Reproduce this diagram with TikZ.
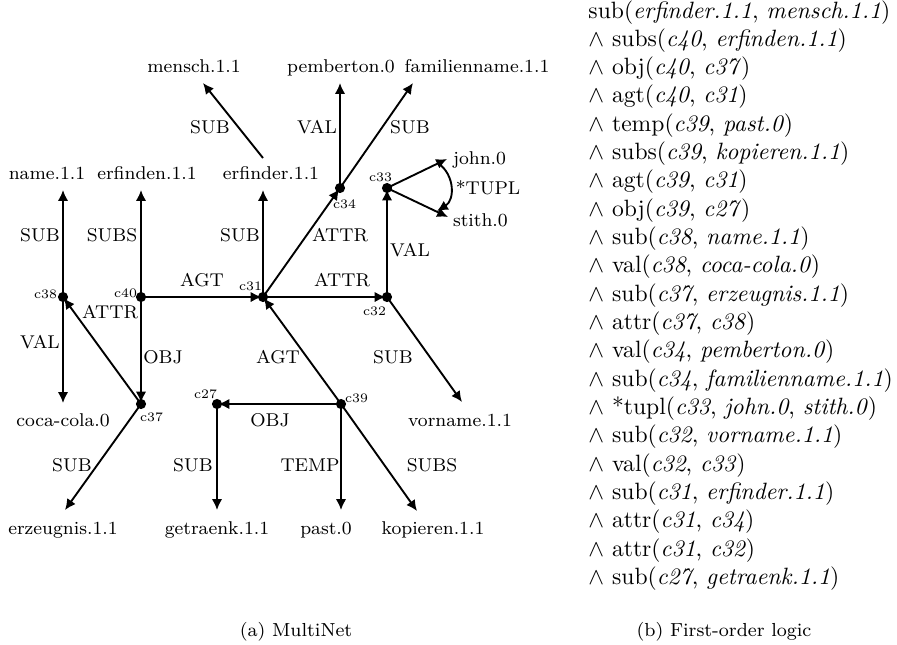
\documentclass[tikz,border=0pt]{standalone}
\usetikzlibrary{arrows.meta}
\begin{document}
\begin{tikzpicture}[x=0.4237pt,y=-0.4237pt,
  gl/.style={font=\fontsize{7.84}{9.4}\selectfont, inner sep=0pt, outer sep=0pt},
  nlab/.style={gl, anchor=base},
  elab/.style={gl, anchor=center},
  clab/.style={font=\fontsize{5.5}{6.6}\selectfont, inner sep=0pt, outer sep=0pt},
  caplab/.style={font=\footnotesize, inner sep=0pt},
  arr/.style={line width=0.8pt, -{Latex[length=4.6pt,width=4.4pt]}},
  arrd/.style={arr, shorten >=0.6pt},
  dotr/.style={fill=black}
]
\useasboundingbox (0,0) rectangle (897,644);
% concept points
\coordinate (c38) at (63,297);
\coordinate (c40) at (141,297);
\coordinate (c31) at (263,297);
\coordinate (c32) at (387,297);
\coordinate (c34) at (340,188);
\coordinate (c33) at (387,188);
\coordinate (c37) at (141,404);
\coordinate (c27) at (217,404);
\coordinate (c39) at (341,404);
% text nodes
\node[nlab] (mensch) at (194,72) {mensch.1.1};
\node[nlab] (pemberton) at (341,72) {pemberton.0};
\node[nlab] (famname) at (477,72) {familienname.1.1};
\node[nlab] (name) at (47,179) {name.1.1};
\node[nlab] (erfinden) at (147,179) {erfinden.1.1};
\node[nlab] (erfinder) at (271,179) {erfinder.1.1};
\node[nlab, anchor=base west] (john) at (453,164) {john.0};
\node[nlab, anchor=base west] (stith) at (453,226) {stith.0};
\node[nlab] (cocacola) at (63,426) {coca-cola.0};
\node[nlab] (vorname) at (460,426) {vorname.1.1};
\node[nlab] (erzeugnis) at (63,534) {erzeugnis.1.1};
\node[nlab] (getraenk) at (217,534) {getraenk.1.1};
\node[nlab] (past) at (326,534) {past.0};
\node[nlab] (kopieren) at (433,534) {kopieren.1.1};
% arrow end points near text nodes
\coordinate (t-mensch) at (203,83);
\coordinate (s-erfinder) at (263,158);
\coordinate (t-pemberton) at (340,83);
\coordinate (t-famname) at (413,83);
\coordinate (t-name) at (63,190);
\coordinate (t-erfinden) at (141,190);
\coordinate (t-erfinder) at (263,190);
\coordinate (t-john) at (447,159);
\coordinate (t-stith) at (448,217);
\coordinate (t-cocacola) at (63,403);
\coordinate (t-vorname) at (462,402);
\coordinate (t-erzeugnis) at (65,510);
\coordinate (t-getraenk) at (217,510);
\coordinate (t-past) at (341,510);
\coordinate (t-kopieren) at (417,511);
\coordinate (tu1) at (438,163);
\coordinate (tu2) at (437,211);
% edges
\draw[arrd] (c40) -- (c31);
\draw[arr] (c40) -- (t-erfinden);
\draw[arrd] (c40) -- (c37);
\draw[arr] (c38) -- (t-name);
\draw[arr] (c38) -- (t-cocacola);
\draw[arrd] (c37) -- (c38);
\draw[arr] (c37) -- (t-erzeugnis);
\draw[arr] (c27) -- (t-getraenk);
\draw[arrd] (c39) -- (c27);
\draw[arrd] (c39) -- (c31);
\draw[arr] (c39) -- (t-past);
\draw[arr] (c39) -- (t-kopieren);
\draw[arr] (c31) -- (t-erfinder);
\draw[arrd] (c31) -- (c34);
\draw[arrd] (c31) -- (c32);
\draw[arr] (c34) -- (t-pemberton);
\draw[arr] (c34) -- (t-famname);
\draw[arr] (s-erfinder) -- (t-mensch);
\draw[arrd] (c32) -- (c33);
\draw[arr] (c32) -- (t-vorname);
\draw[arr] (c33) -- (t-john);
\draw[arr] (c33) -- (t-stith);
\draw[arr] (tu1) .. controls (455,175) and (455,200) .. (tu2);
% dots
\foreach \c in {c38,c40,c31,c32,c34,c33,c37,c27,c39}
  \fill[dotr] (\c) circle (2.15pt);
% edge labels
\node[elab] (l1) at (202,280) {AGT};
\node[elab] (l2) at (112,235) {SUBS};
\node[elab] (l3) at (163,357) {OBJ};
\node[elab] (l4) at (40,235) {SUB};
\node[elab] (l5) at (40,342) {VAL};
\node[elab] (l6) at (110,312) {ATTR};
\node[elab] (l7) at (72,465) {SUB};
\node[elab] (l8) at (193,465) {SUB};
\node[elab] (l9) at (270,420) {OBJ};
\node[elab] (l10) at (278,357) {AGT};
\node[elab] (l11) at (310,465) {TEMP};
\node[elab] (l12) at (432,465) {SUBS};
\node[elab] (l13) at (240,235) {SUB};
\node[elab] (l14) at (340,235) {ATTR};
\node[elab] (l15) at (342,280) {ATTR};
\node[elab] (l16) at (317,127) {VAL};
\node[elab] (l17) at (410,127) {SUB};
\node[elab] (l18) at (210,127) {SUB};
\node[elab] (l19) at (410,250) {VAL};
\node[elab] (l20) at (393,357) {SUB};
\node[elab] (l21) at (488,188) {*TUPL};
% concept labels
\node[clab, anchor=base east] (n38) at (57,298) {c38};
\node[clab, anchor=base east] (n40) at (137,297) {c40};
\node[clab, anchor=base east] (n31) at (262,290) {c31};
\node[clab, anchor=base east] (n32) at (386,315) {c32};
\node[clab, anchor=base east] (n33) at (392,181) {c33};
\node[clab, anchor=base west] (n34) at (333,208) {c34};
\node[clab, anchor=base west] (n37) at (140,421) {c37};
\node[clab, anchor=base east] (n27) at (217,398) {c27};
\node[clab, anchor=base west] (n39) at (345,402) {c39};
% first-order logic
\node[anchor=base west, inner sep=0pt] (fol) at (588,18) {\begin{tabular}[t]{@{}l@{}}
sub(\textit{erfinder.1.1}, \textit{mensch.1.1})\\
$\wedge$ subs(\textit{c40}, \textit{erfinden.1.1})\\
$\wedge$ obj(\textit{c40}, \textit{c37})\\
$\wedge$ agt(\textit{c40}, \textit{c31})\\
$\wedge$ temp(\textit{c39}, \textit{past.0})\\
$\wedge$ subs(\textit{c39}, \textit{kopieren.1.1})\\
$\wedge$ agt(\textit{c39}, \textit{c31})\\
$\wedge$ obj(\textit{c39}, \textit{c27})\\
$\wedge$ sub(\textit{c38}, \textit{name.1.1})\\
$\wedge$ val(\textit{c38}, \textit{coca-cola.0})\\
$\wedge$ sub(\textit{c37}, \textit{erzeugnis.1.1})\\
$\wedge$ attr(\textit{c37}, \textit{c38})\\
$\wedge$ val(\textit{c34}, \textit{pemberton.0})\\
$\wedge$ sub(\textit{c34}, \textit{familienname.1.1})\\
$\wedge$ *tupl(\textit{c33}, \textit{john.0}, \textit{stith.0})\\
$\wedge$ sub(\textit{c32}, \textit{vorname.1.1})\\
$\wedge$ val(\textit{c32}, \textit{c33})\\
$\wedge$ sub(\textit{c31}, \textit{erfinder.1.1})\\
$\wedge$ attr(\textit{c31}, \textit{c34})\\
$\wedge$ attr(\textit{c31}, \textit{c32})\\
$\wedge$ sub(\textit{c27}, \textit{getraenk.1.1})
\end{tabular}};
% captions
\node[caplab] (capa) at (296,632) {(a) MultiNet};
\node[caplab] (capb) at (724,632) {(b) First-order logic};
\end{tikzpicture}
\end{document}
